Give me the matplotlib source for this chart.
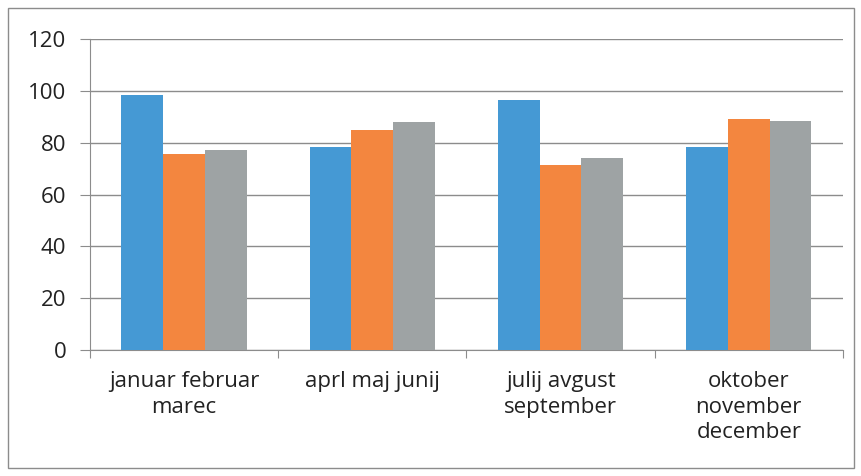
import matplotlib.pyplot as plt
import numpy as np
from matplotlib.patches import Rectangle

categories = ["januar februar\nmarec", "aprl maj junij",
              "julij avgust\nseptember", "oktober\nnovember\ndecember"]
series1 = [98.5, 78.2, 96.4, 78.3]
series2 = [75.7, 84.8, 71.3, 89.1]
series3 = [77.1, 88.0, 74.2, 88.5]

colors = ["#4599D4", "#F3863F", "#9EA3A4"]
grid_color = "#8C8C8C"

plt.rcParams["font.family"] = ["Open Sans", "DejaVu Sans"]

fig = plt.figure(figsize=(8.61, 4.76), dpi=100)
ax = fig.add_axes([0.1045, 0.2647, 0.8745, 0.6533])

x = np.arange(len(categories))
w = 0.222
for i, vals in enumerate([series1, series2, series3]):
    ax.bar(x + (i - 1) * w, vals, width=w, color=colors[i], zorder=3)

ax.set_xlim(-0.5, len(categories) - 0.5)
ax.set_ylim(0, 120)
ax.set_yticks(range(0, 121, 20))
ax.yaxis.grid(True, color=grid_color, linewidth=1, zorder=0)

ax.set_xticks(np.arange(-0.5, len(categories)))
ax.set_xticklabels([])
ax.set_xticks(x, minor=True)
ax.set_xticklabels(categories, minor=True, fontsize=16, color="#222222", linespacing=1.3)
ax.tick_params(axis="x", which="minor", length=0, pad=15)
ax.tick_params(axis="x", which="major", length=6, color=grid_color)
ax.tick_params(axis="y", length=7, color=grid_color, labelsize=16, labelcolor="#222222", pad=10)

for s in ["top", "right"]:
    ax.spines[s].set_visible(False)
for s in ["left", "bottom"]:
    ax.spines[s].set_color(grid_color)

fig.patches.append(Rectangle((8 / 861, 8 / 476), 846 / 861, 460 / 476,
                             transform=fig.transFigure, fill=False,
                             edgecolor="#8C8C8C", linewidth=1))

fig.savefig("out.png", dpi=100)
